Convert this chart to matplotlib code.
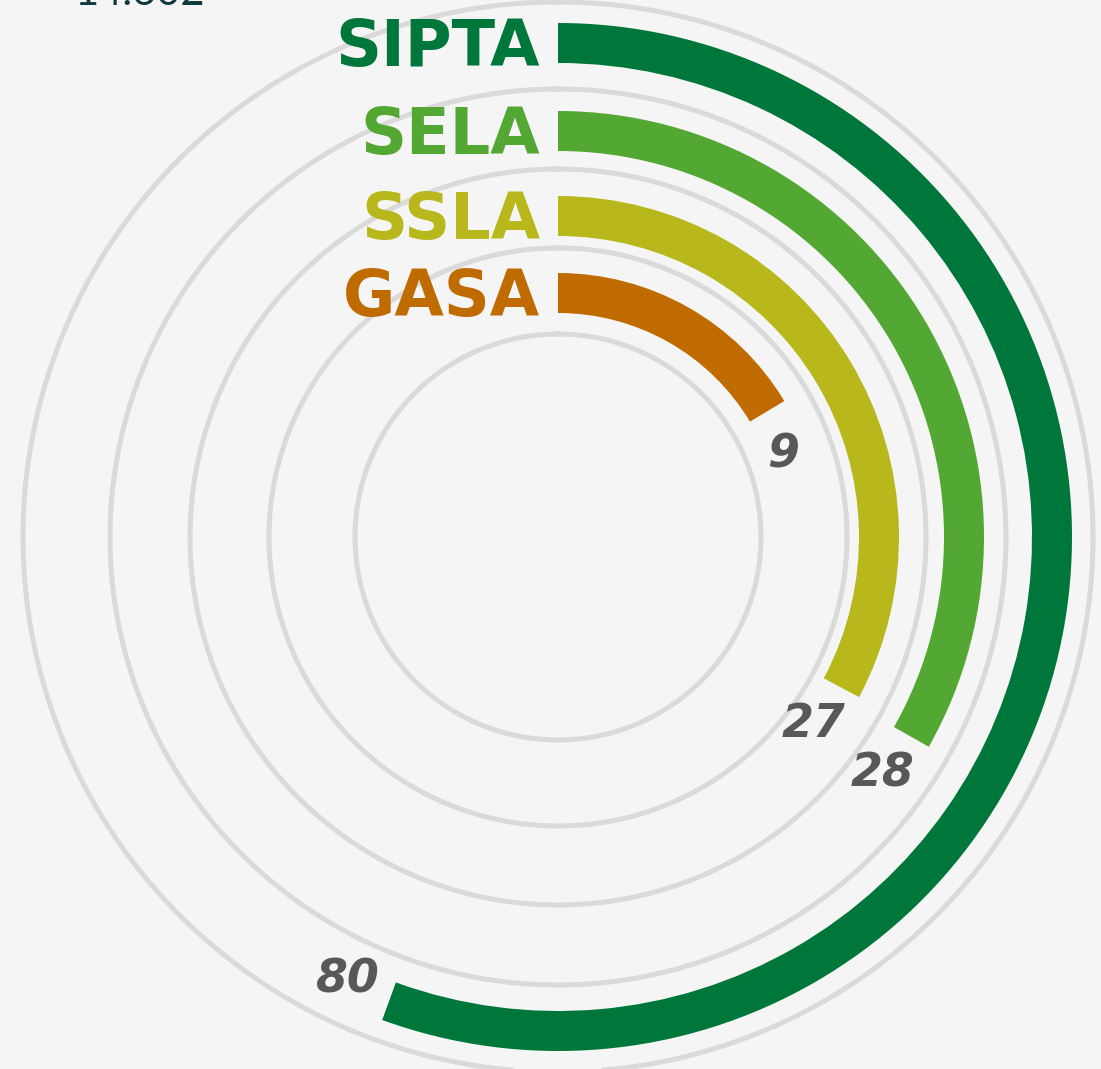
import numpy as np
import matplotlib
matplotlib.use('Agg')
import matplotlib.pyplot as plt
from matplotlib.transforms import offset_copy

# data
names = ['SIPTA', 'SELA', 'SSLA', 'GASA']
values = [80, 28, 27, 9]
sweep_deg = [200, 119.5, 118, 59]          # arc length of each bar
bar_inner = [474, 386, 301, 224]            # radial position of each ring
colors = ['#00773a', '#53a834', '#b8b71c', '#c06b00']
grid_r = [203, 289, 368, 448, 535]

W, H = 1101, 1069
cx, cy, R = 558, 537, 545

fig = plt.figure(figsize=(W / 100, H / 100), dpi=100)
fig.patch.set_facecolor('#f5f5f5')

ax = fig.add_axes([(cx - R) / W, (H - cy - R) / H, 2 * R / W, 2 * R / H],
                  projection='polar')
ax.set_theta_zero_location('N')
ax.set_theta_direction(-1)
ax.set_rlim(0, R)
ax.axis('off')
ax.patch.set_alpha(0)

t = np.linspace(0, 2 * np.pi, 400)
for r in grid_r:
    ax.plot(t, np.full_like(t, r), color='#dadada', lw=3.6, zorder=1)

ax.bar(np.zeros(4), 40, width=np.radians(sweep_deg), bottom=bar_inner,
       align='edge', color=colors, zorder=3, linewidth=0)

# category names, right aligned just left of where each bar starts
lab_tr = offset_copy(ax.transData, fig=fig, x=-18, y=0, units='dots')
for name, c, r0 in zip(names, colors, bar_inner):
    ax.text(0, r0 - 3, name, transform=lab_tr, ha='right', va='baseline',
            fontsize=46, fontweight='bold', family='DejaVu Sans',
            color=c, zorder=4)

# value labels just past the end of each bar
for v, sw, r0 in zip(values, sweep_deg, bar_inner):
    rc = r0 + 16
    th = np.radians(sw) + 46 / rc
    ax.text(th, rc, str(v), ha='center', va='center', fontsize=33,
            fontweight='bold', fontstyle='italic',
            family='DejaVu Sans', color='#585858', zorder=4)

fig.text(75 / W, 1 - 5 / H, '14.602', ha='left', va='baseline', fontsize=30,
         family=['Lato', 'DejaVu Sans'], color='#10393d')

fig.savefig('out.png', dpi=100, facecolor=fig.get_facecolor())
